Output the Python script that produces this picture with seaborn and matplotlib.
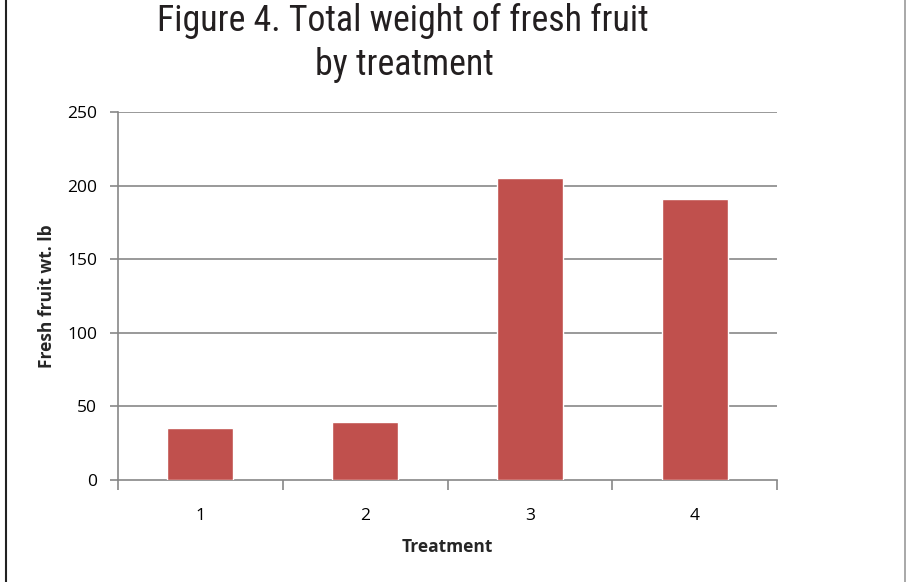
import matplotlib
matplotlib.use("Agg")
import matplotlib.pyplot as plt
import seaborn as sns
import pandas as pd
from matplotlib import font_manager

treatments = ["1", "2", "3", "4"]
fruit_weight_lb = [35, 39.5, 205, 191]
y_ticks = [0, 50, 100, 150, 200, 250]

sns.set_theme(style="white")
plt.rcParams["font.family"] = ["Open Sans", "DejaVu Sans"]

TITLE_SIZE = 25.8


def narrow_title_font():
    """Pick an installed condensed face for the heading, if there is one."""
    best = None
    for f in font_manager.fontManager.ttflist:
        name = f.name.lower()
        fname = f.fname.lower()
        stretch = str(f.stretch).lower()
        narrow = ("condensed" in name or "narrow" in name or "condensed" in fname
                  or "narrow" in fname or stretch in ("condensed", "semi-condensed"))
        if not narrow or "italic" in fname or "oblique" in fname:
            continue
        if "bold" in fname or "light" in fname or "thin" in fname or "black" in fname:
            continue
        score = 0
        if "semicondensed" in fname.replace("-", "") or "semi" in stretch:
            score -= 1
        if "noto" in fname or "open" in fname or "roboto" in fname:
            score += 2
        if "extra" in fname or "ultra" in fname:
            score -= 3
        if best is None or score > best[0]:
            best = (score, f.fname)
    if best is None:
        return font_manager.FontProperties(family="Open Sans", size=TITLE_SIZE)
    return font_manager.FontProperties(fname=best[1], size=TITLE_SIZE)


df = pd.DataFrame({"Treatment": treatments, "Weight": fruit_weight_lb})

fig = plt.figure(figsize=(9.08, 5.82), dpi=100)
ax = fig.add_axes([118 / 908, 102 / 582, 659 / 908, 368 / 582])

grid_grey = "#878787"
sns.barplot(data=df, x="Treatment", y="Weight", color="#C0504D", width=0.4,
            saturation=1, ax=ax, zorder=3)

ax.set_ylim(0, 250)
ax.set_xlim(-0.5, 3.5)
ax.set_yticks(y_ticks)
ax.set_yticklabels([str(v) for v in y_ticks])
for v in y_ticks[1:]:
    ax.axhline(v, color=grid_grey, lw=1.2, zorder=1)

for side in ["top", "right"]:
    ax.spines[side].set_visible(False)
for side in ["left", "bottom"]:
    ax.spines[side].set_color(grid_grey)
    ax.spines[side].set_linewidth(1.2)

# category ticks sit on the boundaries between bars, labels stay centred
ax.set_xticks([-0.5, 0.5, 1.5, 2.5, 3.5])
ax.set_xticklabels([])
ax.set_xticks(range(len(treatments)), minor=True)
ax.set_xticklabels(treatments, minor=True)
ax.tick_params(axis="x", which="major", direction="out", length=7, width=1.2,
               color=grid_grey, bottom=True)
ax.tick_params(axis="x", which="minor", length=0, pad=20, labelsize=12.5,
               labelcolor="black")
ax.tick_params(axis="y", direction="out", length=6, width=1.2, color=grid_grey,
               left=True, pad=9, labelsize=12.5, labelcolor="black")

ax.set_xlabel("Treatment", fontsize=12.5, fontweight="bold", labelpad=10)
ax.set_ylabel("Fresh fruit wt. lb", fontsize=12.5, fontweight="bold", labelpad=8)

title_fp = narrow_title_font()
fig.text(403 / 908, 1 - 31 / 582, "Figure 4. Total weight of fresh fruit",
         ha="center", va="baseline", fontproperties=title_fp, color="#231f20")
fig.text(404 / 908, 1 - 75 / 582, "by treatment",
         ha="center", va="baseline", fontproperties=title_fp, color="#231f20")

# frame lines at the left and right page edges
fig.add_artist(plt.Line2D([6 / 908, 6 / 908], [0, 1], color="#222222", lw=1.5,
                          transform=fig.transFigure))
fig.add_artist(plt.Line2D([905 / 908, 905 / 908], [0, 1], color="#999999", lw=1.2,
                          transform=fig.transFigure))

fig.savefig("out.png", dpi=100, facecolor="white")
